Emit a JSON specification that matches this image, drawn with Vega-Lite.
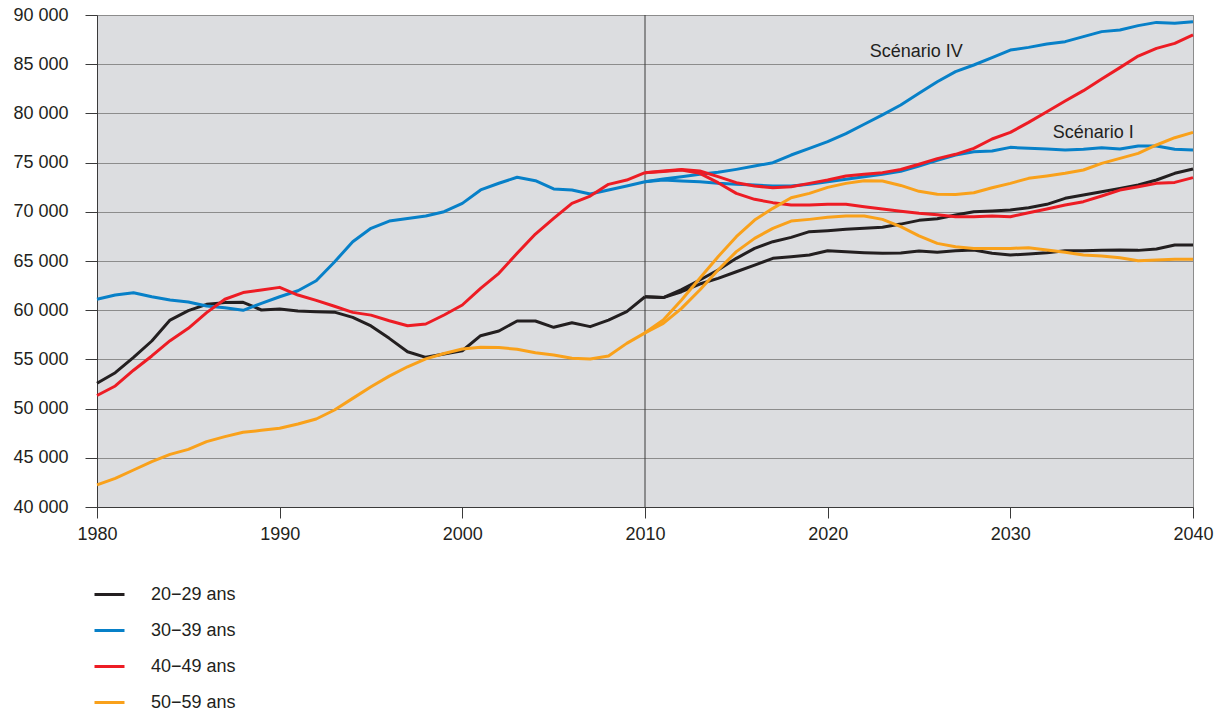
{
"$schema": "https://vega.github.io/schema/vega-lite/v6.json",
"width": 1096, "height": 492,
"autosize": {"type": "none"},
"padding": {"left": 97, "top": 15, "right": 38, "bottom": 205},
"background": "white",
"config": {"font": "Liberation Sans", "view": {"fill": "#dcdde0", "stroke": "#8c8c8c", "strokeWidth": 1}},
"datasets": {
"series": [
{"g":"20−29 ans","s":"H","x":1980,"v":52570},{"g":"20−29 ans","s":"H","x":1981,"v":53650},{"g":"20−29 ans","s":"H","x":1982,"v":55210},{"g":"20−29 ans","s":"H","x":1983,"v":56870},{"g":"20−29 ans","s":"H","x":1984,"v":59000},{"g":"20−29 ans","s":"H","x":1985,"v":59950},{"g":"20−29 ans","s":"H","x":1986,"v":60600},{"g":"20−29 ans","s":"H","x":1987,"v":60770},{"g":"20−29 ans","s":"H","x":1988,"v":60800},{"g":"20−29 ans","s":"H","x":1989,"v":60020},{"g":"20−29 ans","s":"H","x":1990,"v":60120},{"g":"20−29 ans","s":"H","x":1991,"v":59920},{"g":"20−29 ans","s":"H","x":1992,"v":59850},{"g":"20−29 ans","s":"H","x":1993,"v":59800},{"g":"20−29 ans","s":"H","x":1994,"v":59270},{"g":"20−29 ans","s":"H","x":1995,"v":58400},{"g":"20−29 ans","s":"H","x":1996,"v":57140},{"g":"20−29 ans","s":"H","x":1997,"v":55780},{"g":"20−29 ans","s":"H","x":1998,"v":55210},{"g":"20−29 ans","s":"H","x":1999,"v":55550},{"g":"20−29 ans","s":"H","x":2000,"v":55880},{"g":"20−29 ans","s":"H","x":2001,"v":57410},{"g":"20−29 ans","s":"H","x":2002,"v":57890},{"g":"20−29 ans","s":"H","x":2003,"v":58900},{"g":"20−29 ans","s":"H","x":2004,"v":58900},{"g":"20−29 ans","s":"H","x":2005,"v":58260},{"g":"20−29 ans","s":"H","x":2006,"v":58730},{"g":"20−29 ans","s":"H","x":2007,"v":58330},{"g":"20−29 ans","s":"H","x":2008,"v":59000},{"g":"20−29 ans","s":"H","x":2009,"v":59850},{"g":"20−29 ans","s":"H","x":2010,"v":61370},
{"g":"20−29 ans","s":"IV","x":2010,"v":61370},{"g":"20−29 ans","s":"IV","x":2011,"v":61280},{"g":"20−29 ans","s":"IV","x":2012,"v":62100},{"g":"20−29 ans","s":"IV","x":2013,"v":63070},{"g":"20−29 ans","s":"IV","x":2014,"v":64080},{"g":"20−29 ans","s":"IV","x":2015,"v":65270},{"g":"20−29 ans","s":"IV","x":2016,"v":66280},{"g":"20−29 ans","s":"IV","x":2017,"v":66960},{"g":"20−29 ans","s":"IV","x":2018,"v":67400},{"g":"20−29 ans","s":"IV","x":2019,"v":67980},{"g":"20−29 ans","s":"IV","x":2020,"v":68080},{"g":"20−29 ans","s":"IV","x":2021,"v":68220},{"g":"20−29 ans","s":"IV","x":2022,"v":68320},{"g":"20−29 ans","s":"IV","x":2023,"v":68420},{"g":"20−29 ans","s":"IV","x":2024,"v":68750},{"g":"20−29 ans","s":"IV","x":2025,"v":69130},{"g":"20−29 ans","s":"IV","x":2026,"v":69300},{"g":"20−29 ans","s":"IV","x":2027,"v":69670},{"g":"20−29 ans","s":"IV","x":2028,"v":70010},{"g":"20−29 ans","s":"IV","x":2029,"v":70080},{"g":"20−29 ans","s":"IV","x":2030,"v":70180},{"g":"20−29 ans","s":"IV","x":2031,"v":70420},{"g":"20−29 ans","s":"IV","x":2032,"v":70760},{"g":"20−29 ans","s":"IV","x":2033,"v":71370},{"g":"20−29 ans","s":"IV","x":2034,"v":71710},{"g":"20−29 ans","s":"IV","x":2035,"v":72040},{"g":"20−29 ans","s":"IV","x":2036,"v":72380},{"g":"20−29 ans","s":"IV","x":2037,"v":72720},{"g":"20−29 ans","s":"IV","x":2038,"v":73230},{"g":"20−29 ans","s":"IV","x":2039,"v":73910},{"g":"20−29 ans","s":"IV","x":2040,"v":74350},
{"g":"20−29 ans","s":"I","x":2010,"v":61370},{"g":"20−29 ans","s":"I","x":2011,"v":61280},{"g":"20−29 ans","s":"I","x":2012,"v":61880},{"g":"20−29 ans","s":"I","x":2013,"v":62660},{"g":"20−29 ans","s":"I","x":2014,"v":63240},{"g":"20−29 ans","s":"I","x":2015,"v":63910},{"g":"20−29 ans","s":"I","x":2016,"v":64590},{"g":"20−29 ans","s":"I","x":2017,"v":65270},{"g":"20−29 ans","s":"I","x":2018,"v":65440},{"g":"20−29 ans","s":"I","x":2019,"v":65610},{"g":"20−29 ans","s":"I","x":2020,"v":66050},{"g":"20−29 ans","s":"I","x":2021,"v":65950},{"g":"20−29 ans","s":"I","x":2022,"v":65850},{"g":"20−29 ans","s":"I","x":2023,"v":65780},{"g":"20−29 ans","s":"I","x":2024,"v":65820},{"g":"20−29 ans","s":"I","x":2025,"v":66010},{"g":"20−29 ans","s":"I","x":2026,"v":65900},{"g":"20−29 ans","s":"I","x":2027,"v":66050},{"g":"20−29 ans","s":"I","x":2028,"v":66120},{"g":"20−29 ans","s":"I","x":2029,"v":65780},{"g":"20−29 ans","s":"I","x":2030,"v":65610},{"g":"20−29 ans","s":"I","x":2031,"v":65710},{"g":"20−29 ans","s":"I","x":2032,"v":65840},{"g":"20−29 ans","s":"I","x":2033,"v":66050},{"g":"20−29 ans","s":"I","x":2034,"v":66050},{"g":"20−29 ans","s":"I","x":2035,"v":66080},{"g":"20−29 ans","s":"I","x":2036,"v":66120},{"g":"20−29 ans","s":"I","x":2037,"v":66080},{"g":"20−29 ans","s":"I","x":2038,"v":66220},{"g":"20−29 ans","s":"I","x":2039,"v":66620},{"g":"20−29 ans","s":"I","x":2040,"v":66620},
{"g":"30−39 ans","s":"H","x":1980,"v":61110},{"g":"30−39 ans","s":"H","x":1981,"v":61540},{"g":"30−39 ans","s":"H","x":1982,"v":61780},{"g":"30−39 ans","s":"H","x":1983,"v":61370},{"g":"30−39 ans","s":"H","x":1984,"v":61040},{"g":"30−39 ans","s":"H","x":1985,"v":60830},{"g":"30−39 ans","s":"H","x":1986,"v":60430},{"g":"30−39 ans","s":"H","x":1987,"v":60260},{"g":"30−39 ans","s":"H","x":1988,"v":59990},{"g":"30−39 ans","s":"H","x":1989,"v":60700},{"g":"30−39 ans","s":"H","x":1990,"v":61370},{"g":"30−39 ans","s":"H","x":1991,"v":61980},{"g":"30−39 ans","s":"H","x":1992,"v":62990},{"g":"30−39 ans","s":"H","x":1993,"v":64900},{"g":"30−39 ans","s":"H","x":1994,"v":66960},{"g":"30−39 ans","s":"H","x":1995,"v":68320},{"g":"30−39 ans","s":"H","x":1996,"v":69060},{"g":"30−39 ans","s":"H","x":1997,"v":69330},{"g":"30−39 ans","s":"H","x":1998,"v":69570},{"g":"30−39 ans","s":"H","x":1999,"v":70010},{"g":"30−39 ans","s":"H","x":2000,"v":70860},{"g":"30−39 ans","s":"H","x":2001,"v":72220},{"g":"30−39 ans","s":"H","x":2002,"v":72900},{"g":"30−39 ans","s":"H","x":2003,"v":73510},{"g":"30−39 ans","s":"H","x":2004,"v":73160},{"g":"30−39 ans","s":"H","x":2005,"v":72320},{"g":"30−39 ans","s":"H","x":2006,"v":72220},{"g":"30−39 ans","s":"H","x":2007,"v":71810},{"g":"30−39 ans","s":"H","x":2008,"v":72220},{"g":"30−39 ans","s":"H","x":2009,"v":72620},{"g":"30−39 ans","s":"H","x":2010,"v":73060},
{"g":"30−39 ans","s":"IV","x":2010,"v":73060},{"g":"30−39 ans","s":"IV","x":2011,"v":73330},{"g":"30−39 ans","s":"IV","x":2012,"v":73570},{"g":"30−39 ans","s":"IV","x":2013,"v":73810},{"g":"30−39 ans","s":"IV","x":2014,"v":74010},{"g":"30−39 ans","s":"IV","x":2015,"v":74310},{"g":"30−39 ans","s":"IV","x":2016,"v":74650},{"g":"30−39 ans","s":"IV","x":2017,"v":74990},{"g":"30−39 ans","s":"IV","x":2018,"v":75770},{"g":"30−39 ans","s":"IV","x":2019,"v":76450},{"g":"30−39 ans","s":"IV","x":2020,"v":77130},{"g":"30−39 ans","s":"IV","x":2021,"v":77950},{"g":"30−39 ans","s":"IV","x":2022,"v":78900},{"g":"30−39 ans","s":"IV","x":2023,"v":79850},{"g":"30−39 ans","s":"IV","x":2024,"v":80850},{"g":"30−39 ans","s":"IV","x":2025,"v":82040},{"g":"30−39 ans","s":"IV","x":2026,"v":83220},{"g":"30−39 ans","s":"IV","x":2027,"v":84240},{"g":"30−39 ans","s":"IV","x":2028,"v":84920},{"g":"30−39 ans","s":"IV","x":2029,"v":85660},{"g":"30−39 ans","s":"IV","x":2030,"v":86440},{"g":"30−39 ans","s":"IV","x":2031,"v":86710},{"g":"30−39 ans","s":"IV","x":2032,"v":87050},{"g":"30−39 ans","s":"IV","x":2033,"v":87290},{"g":"30−39 ans","s":"IV","x":2034,"v":87800},{"g":"30−39 ans","s":"IV","x":2035,"v":88310},{"g":"30−39 ans","s":"IV","x":2036,"v":88480},{"g":"30−39 ans","s":"IV","x":2037,"v":88920},{"g":"30−39 ans","s":"IV","x":2038,"v":89250},{"g":"30−39 ans","s":"IV","x":2039,"v":89150},{"g":"30−39 ans","s":"IV","x":2040,"v":89320},
{"g":"30−39 ans","s":"I","x":2010,"v":73060},{"g":"30−39 ans","s":"I","x":2011,"v":73230},{"g":"30−39 ans","s":"I","x":2012,"v":73130},{"g":"30−39 ans","s":"I","x":2013,"v":73060},{"g":"30−39 ans","s":"I","x":2014,"v":72890},{"g":"30−39 ans","s":"I","x":2015,"v":72790},{"g":"30−39 ans","s":"I","x":2016,"v":72720},{"g":"30−39 ans","s":"I","x":2017,"v":72620},{"g":"30−39 ans","s":"I","x":2018,"v":72620},{"g":"30−39 ans","s":"I","x":2019,"v":72790},{"g":"30−39 ans","s":"I","x":2020,"v":73060},{"g":"30−39 ans","s":"I","x":2021,"v":73300},{"g":"30−39 ans","s":"I","x":2022,"v":73570},{"g":"30−39 ans","s":"I","x":2023,"v":73810},{"g":"30−39 ans","s":"I","x":2024,"v":74110},{"g":"30−39 ans","s":"I","x":2025,"v":74650},{"g":"30−39 ans","s":"I","x":2026,"v":75230},{"g":"30−39 ans","s":"I","x":2027,"v":75770},{"g":"30−39 ans","s":"I","x":2028,"v":76110},{"g":"30−39 ans","s":"I","x":2029,"v":76180},{"g":"30−39 ans","s":"I","x":2030,"v":76550},{"g":"30−39 ans","s":"I","x":2031,"v":76450},{"g":"30−39 ans","s":"I","x":2032,"v":76380},{"g":"30−39 ans","s":"I","x":2033,"v":76280},{"g":"30−39 ans","s":"I","x":2034,"v":76350},{"g":"30−39 ans","s":"I","x":2035,"v":76520},{"g":"30−39 ans","s":"I","x":2036,"v":76380},{"g":"30−39 ans","s":"I","x":2037,"v":76690},{"g":"30−39 ans","s":"I","x":2038,"v":76690},{"g":"30−39 ans","s":"I","x":2039,"v":76350},{"g":"30−39 ans","s":"I","x":2040,"v":76280},
{"g":"40−49 ans","s":"H","x":1980,"v":51330},{"g":"40−49 ans","s":"H","x":1981,"v":52300},{"g":"40−49 ans","s":"H","x":1982,"v":53900},{"g":"40−49 ans","s":"H","x":1983,"v":55350},{"g":"40−49 ans","s":"H","x":1984,"v":56900},{"g":"40−49 ans","s":"H","x":1985,"v":58160},{"g":"40−49 ans","s":"H","x":1986,"v":59750},{"g":"40−49 ans","s":"H","x":1987,"v":61110},{"g":"40−49 ans","s":"H","x":1988,"v":61790},{"g":"40−49 ans","s":"H","x":1989,"v":62050},{"g":"40−49 ans","s":"H","x":1990,"v":62320},{"g":"40−49 ans","s":"H","x":1991,"v":61540},{"g":"40−49 ans","s":"H","x":1992,"v":61000},{"g":"40−49 ans","s":"H","x":1993,"v":60400},{"g":"40−49 ans","s":"H","x":1994,"v":59780},{"g":"40−49 ans","s":"H","x":1995,"v":59500},{"g":"40−49 ans","s":"H","x":1996,"v":58930},{"g":"40−49 ans","s":"H","x":1997,"v":58420},{"g":"40−49 ans","s":"H","x":1998,"v":58600},{"g":"40−49 ans","s":"H","x":1999,"v":59510},{"g":"40−49 ans","s":"H","x":2000,"v":60530},{"g":"40−49 ans","s":"H","x":2001,"v":62220},{"g":"40−49 ans","s":"H","x":2002,"v":63750},{"g":"40−49 ans","s":"H","x":2003,"v":65780},{"g":"40−49 ans","s":"H","x":2004,"v":67740},{"g":"40−49 ans","s":"H","x":2005,"v":69330},{"g":"40−49 ans","s":"H","x":2006,"v":70860},{"g":"40−49 ans","s":"H","x":2007,"v":71600},{"g":"40−49 ans","s":"H","x":2008,"v":72790},{"g":"40−49 ans","s":"H","x":2009,"v":73230},{"g":"40−49 ans","s":"H","x":2010,"v":73980},
{"g":"40−49 ans","s":"IV","x":2010,"v":73980},{"g":"40−49 ans","s":"IV","x":2011,"v":74150},{"g":"40−49 ans","s":"IV","x":2012,"v":74310},{"g":"40−49 ans","s":"IV","x":2013,"v":74150},{"g":"40−49 ans","s":"IV","x":2014,"v":73570},{"g":"40−49 ans","s":"IV","x":2015,"v":72960},{"g":"40−49 ans","s":"IV","x":2016,"v":72620},{"g":"40−49 ans","s":"IV","x":2017,"v":72450},{"g":"40−49 ans","s":"IV","x":2018,"v":72550},{"g":"40−49 ans","s":"IV","x":2019,"v":72890},{"g":"40−49 ans","s":"IV","x":2020,"v":73230},{"g":"40−49 ans","s":"IV","x":2021,"v":73640},{"g":"40−49 ans","s":"IV","x":2022,"v":73810},{"g":"40−49 ans","s":"IV","x":2023,"v":73980},{"g":"40−49 ans","s":"IV","x":2024,"v":74300},{"g":"40−49 ans","s":"IV","x":2025,"v":74830},{"g":"40−49 ans","s":"IV","x":2026,"v":75400},{"g":"40−49 ans","s":"IV","x":2027,"v":75840},{"g":"40−49 ans","s":"IV","x":2028,"v":76450},{"g":"40−49 ans","s":"IV","x":2029,"v":77400},{"g":"40−49 ans","s":"IV","x":2030,"v":78070},{"g":"40−49 ans","s":"IV","x":2031,"v":79090},{"g":"40−49 ans","s":"IV","x":2032,"v":80170},{"g":"40−49 ans","s":"IV","x":2033,"v":81260},{"g":"40−49 ans","s":"IV","x":2034,"v":82310},{"g":"40−49 ans","s":"IV","x":2035,"v":83500},{"g":"40−49 ans","s":"IV","x":2036,"v":84650},{"g":"40−49 ans","s":"IV","x":2037,"v":85830},{"g":"40−49 ans","s":"IV","x":2038,"v":86610},{"g":"40−49 ans","s":"IV","x":2039,"v":87120},{"g":"40−49 ans","s":"IV","x":2040,"v":87970},
{"g":"40−49 ans","s":"I","x":2010,"v":73980},{"g":"40−49 ans","s":"I","x":2011,"v":74100},{"g":"40−49 ans","s":"I","x":2012,"v":74250},{"g":"40−49 ans","s":"I","x":2013,"v":73910},{"g":"40−49 ans","s":"I","x":2014,"v":72960},{"g":"40−49 ans","s":"I","x":2015,"v":71870},{"g":"40−49 ans","s":"I","x":2016,"v":71270},{"g":"40−49 ans","s":"I","x":2017,"v":70930},{"g":"40−49 ans","s":"I","x":2018,"v":70690},{"g":"40−49 ans","s":"I","x":2019,"v":70690},{"g":"40−49 ans","s":"I","x":2020,"v":70760},{"g":"40−49 ans","s":"I","x":2021,"v":70760},{"g":"40−49 ans","s":"I","x":2022,"v":70520},{"g":"40−49 ans","s":"I","x":2023,"v":70280},{"g":"40−49 ans","s":"I","x":2024,"v":70050},{"g":"40−49 ans","s":"I","x":2025,"v":69850},{"g":"40−49 ans","s":"I","x":2026,"v":69700},{"g":"40−49 ans","s":"I","x":2027,"v":69500},{"g":"40−49 ans","s":"I","x":2028,"v":69500},{"g":"40−49 ans","s":"I","x":2029,"v":69570},{"g":"40−49 ans","s":"I","x":2030,"v":69500},{"g":"40−49 ans","s":"I","x":2031,"v":69910},{"g":"40−49 ans","s":"I","x":2032,"v":70280},{"g":"40−49 ans","s":"I","x":2033,"v":70690},{"g":"40−49 ans","s":"I","x":2034,"v":71030},{"g":"40−49 ans","s":"I","x":2035,"v":71600},{"g":"40−49 ans","s":"I","x":2036,"v":72210},{"g":"40−49 ans","s":"I","x":2037,"v":72550},{"g":"40−49 ans","s":"I","x":2038,"v":72890},{"g":"40−49 ans","s":"I","x":2039,"v":72990},{"g":"40−49 ans","s":"I","x":2040,"v":73470},
{"g":"50−59 ans","s":"H","x":1980,"v":42240},{"g":"50−59 ans","s":"H","x":1981,"v":42910},{"g":"50−59 ans","s":"H","x":1982,"v":43760},{"g":"50−59 ans","s":"H","x":1983,"v":44610},{"g":"50−59 ans","s":"H","x":1984,"v":45350},{"g":"50−59 ans","s":"H","x":1985,"v":45860},{"g":"50−59 ans","s":"H","x":1986,"v":46640},{"g":"50−59 ans","s":"H","x":1987,"v":47150},{"g":"50−59 ans","s":"H","x":1988,"v":47590},{"g":"50−59 ans","s":"H","x":1989,"v":47790},{"g":"50−59 ans","s":"H","x":1990,"v":48000},{"g":"50−59 ans","s":"H","x":1991,"v":48430},{"g":"50−59 ans","s":"H","x":1992,"v":48940},{"g":"50−59 ans","s":"H","x":1993,"v":49860},{"g":"50−59 ans","s":"H","x":1994,"v":51040},{"g":"50−59 ans","s":"H","x":1995,"v":52220},{"g":"50−59 ans","s":"H","x":1996,"v":53300},{"g":"50−59 ans","s":"H","x":1997,"v":54250},{"g":"50−59 ans","s":"H","x":1998,"v":55050},{"g":"50−59 ans","s":"H","x":1999,"v":55600},{"g":"50−59 ans","s":"H","x":2000,"v":56060},{"g":"50−59 ans","s":"H","x":2001,"v":56230},{"g":"50−59 ans","s":"H","x":2002,"v":56200},{"g":"50−59 ans","s":"H","x":2003,"v":56030},{"g":"50−59 ans","s":"H","x":2004,"v":55680},{"g":"50−59 ans","s":"H","x":2005,"v":55450},{"g":"50−59 ans","s":"H","x":2006,"v":55110},{"g":"50−59 ans","s":"H","x":2007,"v":55040},{"g":"50−59 ans","s":"H","x":2008,"v":55350},{"g":"50−59 ans","s":"H","x":2009,"v":56630},{"g":"50−59 ans","s":"H","x":2010,"v":57700},
{"g":"50−59 ans","s":"IV","x":2010,"v":57700},{"g":"50−59 ans","s":"IV","x":2011,"v":59000},{"g":"50−59 ans","s":"IV","x":2012,"v":61030},{"g":"50−59 ans","s":"IV","x":2013,"v":63240},{"g":"50−59 ans","s":"IV","x":2014,"v":65440},{"g":"50−59 ans","s":"IV","x":2015,"v":67470},{"g":"50−59 ans","s":"IV","x":2016,"v":69160},{"g":"50−59 ans","s":"IV","x":2017,"v":70350},{"g":"50−59 ans","s":"IV","x":2018,"v":71430},{"g":"50−59 ans","s":"IV","x":2019,"v":71870},{"g":"50−59 ans","s":"IV","x":2020,"v":72480},{"g":"50−59 ans","s":"IV","x":2021,"v":72890},{"g":"50−59 ans","s":"IV","x":2022,"v":73160},{"g":"50−59 ans","s":"IV","x":2023,"v":73130},{"g":"50−59 ans","s":"IV","x":2024,"v":72680},{"g":"50−59 ans","s":"IV","x":2025,"v":72080},{"g":"50−59 ans","s":"IV","x":2026,"v":71790},{"g":"50−59 ans","s":"IV","x":2027,"v":71770},{"g":"50−59 ans","s":"IV","x":2028,"v":71940},{"g":"50−59 ans","s":"IV","x":2029,"v":72450},{"g":"50−59 ans","s":"IV","x":2030,"v":72890},{"g":"50−59 ans","s":"IV","x":2031,"v":73400},{"g":"50−59 ans","s":"IV","x":2032,"v":73640},{"g":"50−59 ans","s":"IV","x":2033,"v":73910},{"g":"50−59 ans","s":"IV","x":2034,"v":74250},{"g":"50−59 ans","s":"IV","x":2035,"v":74920},{"g":"50−59 ans","s":"IV","x":2036,"v":75430},{"g":"50−59 ans","s":"IV","x":2037,"v":75940},{"g":"50−59 ans","s":"IV","x":2038,"v":76790},{"g":"50−59 ans","s":"IV","x":2039,"v":77530},{"g":"50−59 ans","s":"IV","x":2040,"v":78070},
{"g":"50−59 ans","s":"I","x":2010,"v":57700},{"g":"50−59 ans","s":"I","x":2011,"v":58660},{"g":"50−59 ans","s":"I","x":2012,"v":60190},{"g":"50−59 ans","s":"I","x":2013,"v":62050},{"g":"50−59 ans","s":"I","x":2014,"v":64080},{"g":"50−59 ans","s":"I","x":2015,"v":65950},{"g":"50−59 ans","s":"I","x":2016,"v":67300},{"g":"50−59 ans","s":"I","x":2017,"v":68320},{"g":"50−59 ans","s":"I","x":2018,"v":69060},{"g":"50−59 ans","s":"I","x":2019,"v":69230},{"g":"50−59 ans","s":"I","x":2020,"v":69440},{"g":"50−59 ans","s":"I","x":2021,"v":69570},{"g":"50−59 ans","s":"I","x":2022,"v":69570},{"g":"50−59 ans","s":"I","x":2023,"v":69230},{"g":"50−59 ans","s":"I","x":2024,"v":68500},{"g":"50−59 ans","s":"I","x":2025,"v":67560},{"g":"50−59 ans","s":"I","x":2026,"v":66790},{"g":"50−59 ans","s":"I","x":2027,"v":66450},{"g":"50−59 ans","s":"I","x":2028,"v":66280},{"g":"50−59 ans","s":"I","x":2029,"v":66280},{"g":"50−59 ans","s":"I","x":2030,"v":66280},{"g":"50−59 ans","s":"I","x":2031,"v":66350},{"g":"50−59 ans","s":"I","x":2032,"v":66120},{"g":"50−59 ans","s":"I","x":2033,"v":65880},{"g":"50−59 ans","s":"I","x":2034,"v":65610},{"g":"50−59 ans","s":"I","x":2035,"v":65510},{"g":"50−59 ans","s":"I","x":2036,"v":65340},{"g":"50−59 ans","s":"I","x":2037,"v":65030},{"g":"50−59 ans","s":"I","x":2038,"v":65100},{"g":"50−59 ans","s":"I","x":2039,"v":65170},{"g":"50−59 ans","s":"I","x":2040,"v":65170}
]
},
"layer": [
{"data": {"values": [{"x": 2010}]},
 "mark": {"type": "rule", "color": "#3a3a3a", "strokeWidth": 1},
 "encoding": {"x": {"field": "x", "type": "quantitative"}}},
{"data": {"name": "series"},
 "mark": {"type": "line", "strokeWidth": 3, "strokeJoin": "round"},
 "encoding": {
  "x": {"field": "x", "type": "quantitative",
        "scale": {"domain": [1980, 2040], "nice": false, "zero": false},
        "axis": {"values": [1980, 1990, 2000, 2010, 2020, 2030, 2040], "format": "d", "title": null, "grid": false,
                 "tickSize": 11, "tickColor": "#3a3a3a", "domainColor": "#3a3a3a", "labelFontSize": 18,
                 "labelColor": "#231f20", "labelPadding": 7, "labelFlush": false, "labelOverlap": false}},
  "y": {"field": "v", "type": "quantitative",
        "scale": {"domain": [40000, 90000], "nice": false, "zero": false},
        "axis": {"values": [40000, 45000, 50000, 55000, 60000, 65000, 70000, 75000, 80000, 85000, 90000],
                 "labelExpr": "replace(format(datum.value, ','), ',', ' ')", "title": null, "grid": true,
                 "gridColor": "#8c8c8c", "gridWidth": 1, "tickSize": 12, "tickColor": "#3a3a3a", "domainColor": "#3a3a3a",
                 "labelFontSize": 18, "labelColor": "#231f20", "labelPadding": 17, "labelFlush": false, "labelOverlap": false}},
  "color": {"field": "g", "type": "nominal",
            "scale": {"domain": ["20−29 ans", "30−39 ans", "40−49 ans", "50−59 ans"], "range": ["#231f20", "#0780c8", "#ed1c24", "#f9a11b"]},
            "legend": {"orient": "none", "legendX": -4, "legendY": 563, "title": null, "direction": "vertical",
                       "symbolType": "stroke", "symbolSize": 900, "symbolStrokeWidth": 3, "labelFontSize": 18,
                       "labelColor": "#231f20", "labelOffset": 25, "rowPadding": 10, "padding": 0}},
  "detail": {"field": "s"}
 }},
{"data": {"values": [{"x": 2024.85, "v": 86240, "t": "Scénario IV"}, {"x": 2034.54, "v": 78010, "t": "Scénario I"}]},
 "mark": {"type": "text", "fontSize": 18, "color": "#231f20", "align": "center", "baseline": "middle"},
 "encoding": {"x": {"field": "x", "type": "quantitative"}, "y": {"field": "v", "type": "quantitative"}, "text": {"field": "t"}}}
]
}
